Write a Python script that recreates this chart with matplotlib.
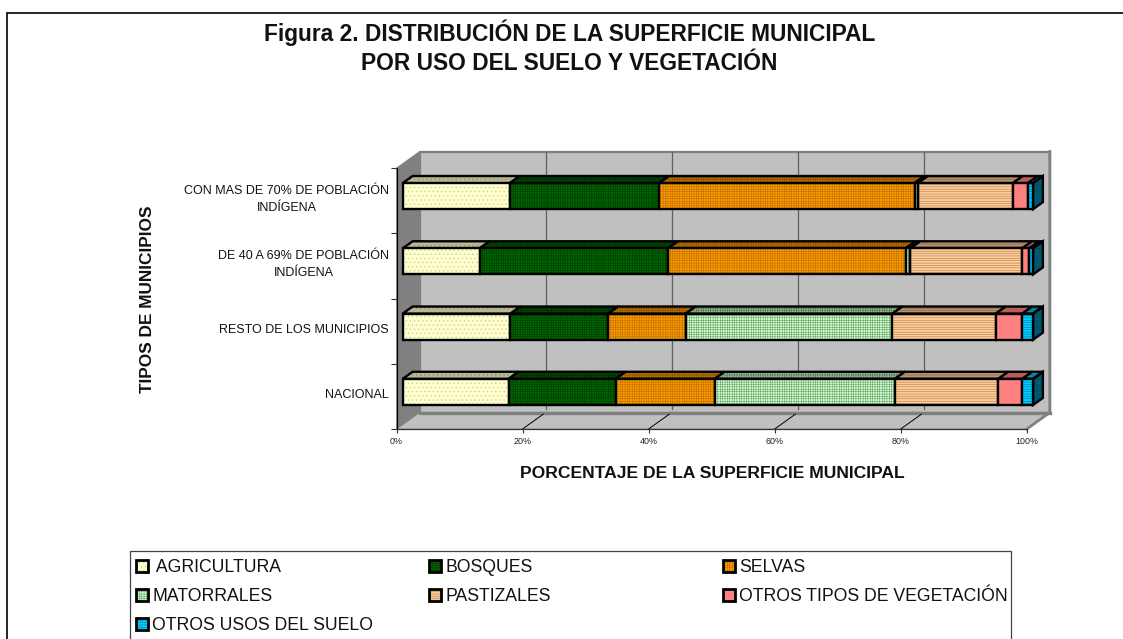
import matplotlib
matplotlib.use("Agg")
import matplotlib.pyplot as plt
from matplotlib.patches import Polygon, Rectangle
from matplotlib.colors import to_rgb

plt.rcParams['font.family'] = ['Liberation Sans', 'DejaVu Sans']
plt.rcParams['hatch.linewidth'] = 0.3

categories = ["NACIONAL", "RESTO DE LOS MUNICIPIOS",
              "DE 40 A 69% DE POBLACIÓN\nINDÍGENA",
              "CON MAS DE 70% DE POBLACIÓN\nINDÍGENA"]
agricultura = [16.8, 17.1, 12.2, 17.0]
bosques = [17.0, 15.5, 29.9, 23.7]
selvas = [15.7, 12.3, 37.7, 40.5]
matorrales = [28.6, 32.8, 0.7, 0.5]
pastizales = [16.4, 16.4, 17.8, 15.1]
otros_veg = [3.8, 4.2, 1.1, 2.4]
otros_usos = [1.7, 1.7, 0.6, 0.8]
series_names = [" AGRICULTURA", "BOSQUES", "SELVAS", "MATORRALES", "PASTIZALES",
                "OTROS TIPOS DE VEGETACIÓN", "OTROS USOS DEL SUELO"]
series_values = [agricultura, bosques, selvas, matorrales, pastizales, otros_veg, otros_usos]
colors = ["#FFFFCC", "#006600", "#FF9900", "#CCFFCC", "#FFCC99", "#FF8080", "#00CCFF"]
hatches = ["....", "+++++++", "+++++++", "+++++++", "-------", None, "-------"]
hatch_cols = ["#BBBB99", "#003300", "#AA6600", "#558855", "#996633", None, "#005577"]
x_ticks = [0, 20, 40, 60, 80, 100]

W, H = 1123, 639
fig = plt.figure(figsize=(W / 100, H / 100), dpi=100, facecolor="white")
bg = fig.add_axes([0, 0, 1, 1], zorder=0)
bg.set_xlim(0, W); bg.set_ylim(H, 0); bg.axis("off")
# outer frame: only left and top edges fall inside the picture
bg.plot([7, 7, W], [H, 12.5, 12.5], color="black", lw=1.2, solid_joinstyle="miter")

# plot axes: x 0..100 %, y 0..4 categories
L, R, T, B = 396.5, 1026.8, 168, 429
ax = fig.add_axes([L / W, 1 - B / H, (R - L) / W, (B - T) / H], zorder=1)
ax.set_xlim(0, 100); ax.set_ylim(0, 4)
ax.patch.set_visible(False)
for s in ax.spines.values():
    s.set_visible(False)
PX = (R - L) / 100
PY = (B - T) / 4
DX_PX, DY_PX = 23.0, 16.5


def P(x, y, d):
    return (x + d * DX_PX / PX, y + d * DY_PX / PY)


def poly(pts, **kw):
    kw.setdefault("clip_on", False)
    p = Polygon(pts, closed=True, **kw)
    ax.add_patch(p)
    return p


GREY = "#C0C0C0"
DARK = "#808080"
# walls and floor
poly([P(0, 0, 1), P(100, 0, 1), P(100, 4, 1), P(0, 4, 1)], fc=GREY, ec=DARK, lw=1.6, zorder=1)
poly([P(0, 0, 0), P(0, 0, 1), P(0, 4, 1), P(0, 4, 0)], fc=DARK, ec=DARK, lw=0.5, zorder=1.2)
poly([P(0, 0, 0), P(100, 0, 0), P(100, 0, 1), P(0, 0, 1)], fc=GREY, ec=DARK, lw=0.5, zorder=1.1)
ax.plot(*zip(P(0, 0, 1), P(100, 0, 1)), color=DARK, lw=2.4, clip_on=False, zorder=1.3)
ax.plot(*zip(P(100, 0, 0), P(100, 0, 1), P(100, 4, 1)), color=DARK, lw=2.0, clip_on=False, zorder=1.3)
# gridlines
for t in x_ticks[1:-1]:
    ax.plot(*zip(P(t, 0.05, 1), P(t, 4, 1)), color="#606060", lw=0.9, clip_on=False, zorder=1.4)
    ax.plot(*zip(P(t, 0, 0), P(t, 0, 0.9)), color="black", lw=0.7, clip_on=False, zorder=1.4)
# axis lines and ticks
ax.plot(*zip(P(0, 0, 0), P(0, 4, 0)), color="black", lw=0.9, clip_on=False, zorder=1.5)
ax.plot(*zip(P(0, 0, 0), P(100, 0, 0)), color="#333333", lw=0.9, clip_on=False, zorder=1.5)
ax.set_xticks(x_ticks)
ax.set_xticklabels([f"{t}%" for t in x_ticks], fontsize=6.4, color="#222222")
ax.set_yticks([0, 1, 2, 3, 4])
ax.set_yticklabels([])
ax.tick_params(axis="x", length=3, width=0.8, pad=3, color="#333333")
ax.tick_params(axis="y", length=4.2, width=0.8, color="#333333")
for i, c in enumerate(categories):
    ax.annotate(c, xy=(0, i + 0.52), xytext=(-7.5 / 100 * 72, 0), textcoords="offset points",
                ha="right", va="center", fontsize=9.0, multialignment="center",
                linespacing=1.6, color="#111111", annotation_clip=False)


def shade(col, f):
    r, g, b = to_rgb(col)
    return (r * f, g * f, b * f)


D0, D1 = 0.27, 0.70
BAR_H = 0.40
EDGE = 1.7
for i in range(len(categories)):
    y0, y1 = i + 0.5 - BAR_H / 2, i + 0.5 + BAR_H / 2
    left = 0.0
    for vals, col, ha, hc in zip(series_values, colors, hatches, hatch_cols):
        v = vals[i]
        right = left + v
        z = 3 + left / 1000
        ec_h = shade(hc, 0.7) if hc else shade(col, 0.5)
        if right >= 99.99:
            side = [P(right, y0, D0), P(right, y0, D1), P(right, y1, D1), P(right, y1, D0)]
            poly(side, fc=shade(col, 0.45), ec=ec_h, hatch=ha, lw=0, zorder=z)
            poly(side, fc="none", ec="black", lw=EDGE, zorder=z + 0.001, joinstyle="miter")
        top = [P(left, y1, D0), P(right, y1, D0), P(right, y1, D1), P(left, y1, D1)]
        poly(top, fc=shade(col, 0.72), ec=ec_h, hatch=ha, lw=0, zorder=z)
        poly(top, fc="none", ec="black", lw=EDGE, zorder=z + 0.001, joinstyle="miter")
        fx, fy = P(left, i + 0.5, D0)
        ax.barh(fy, v, left=fx, height=BAR_H, color=col, edgecolor=hc if hc else col,
                hatch=ha, linewidth=0, zorder=z + 0.002, clip_on=False)
        ax.barh(fy, v, left=fx, height=BAR_H, color="none", edgecolor="black",
                linewidth=EDGE, zorder=z + 0.003, clip_on=False)
        left = right

ax.set_xlim(0, 100); ax.set_ylim(0, 4)

# titles
fig.text(569.5 / W, 1 - 33 / H, "Figura 2. DISTRIBUCIÓN DE LA SUPERFICIE MUNICIPAL", ha="center", va="center",
         fontsize=16.4, fontweight="bold", color="#111111")
fig.text(569.5 / W, 1 - 63 / H, "POR USO DEL SUELO Y VEGETACIÓN", ha="center", va="center",
         fontsize=16.4, fontweight="bold", color="#111111")
fig.text(712.5 / W, 1 - 474 / H, "PORCENTAJE DE LA SUPERFICIE MUNICIPAL", ha="center", va="center",
         fontsize=12.6, fontweight="bold", color="#111111")
fig.text(148 / W, 1 - 299 / H, "TIPOS DE MUNICIPIOS", ha="center", va="center", rotation=90,
         fontsize=12.4, fontweight="bold", color="#111111")

# legend
bg.add_patch(Rectangle((129.5, 550.5), 881.5, 120, fc="none", ec="#444444", lw=0.9))
leg_x = [135.7, 429.2, 722.7]
leg_y = [566, 595, 624]
for k, (name, col, ha, hc) in enumerate(zip(series_names, colors, hatches, hatch_cols)):
    lx = leg_x[k % 3]
    ly = leg_y[k // 3]
    bg.add_patch(Rectangle((lx, ly - 6), 12, 12, fc=col, ec=hc if hc else col, hatch=ha, lw=0))
    bg.add_patch(Rectangle((lx, ly - 6), 12, 12, fc="none", ec="black", lw=2.0))
    bg.text(lx + 16.5, ly + 1.5, name, ha="left", va="center", fontsize=12.7, color="#111111")

fig.savefig("out.png", dpi=100, facecolor="white")
